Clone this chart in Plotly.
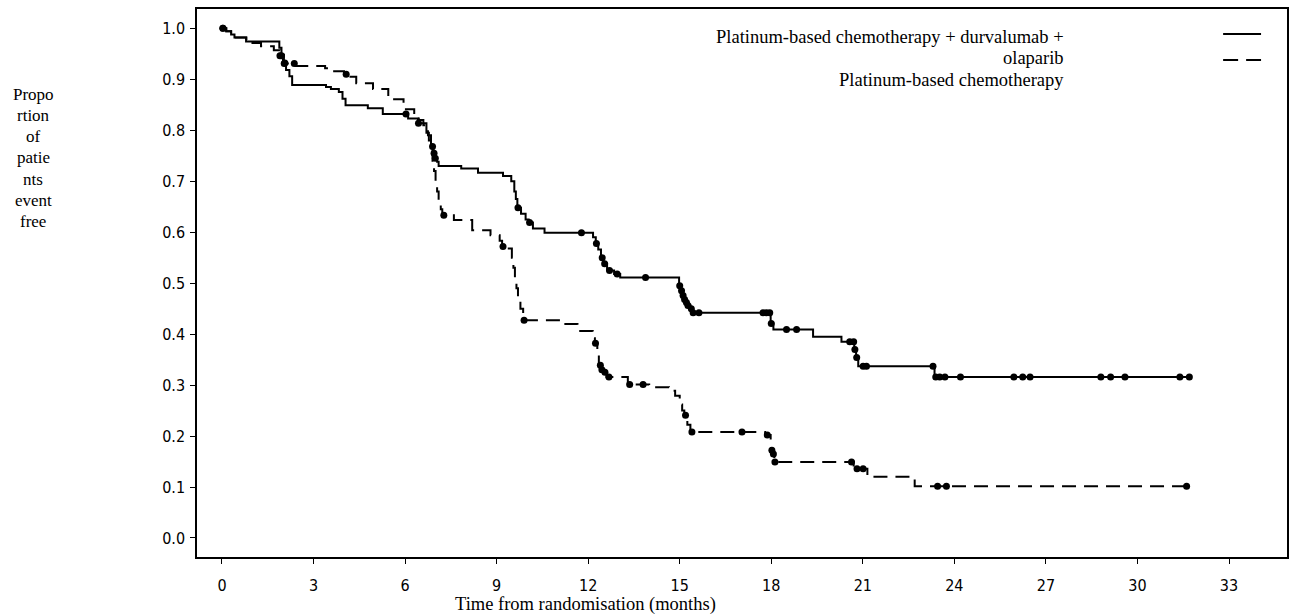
import numpy as np
import plotly.graph_objects as go

# Kaplan-Meier estimates: event times (months) and survival after each step
chemo_durva_ola_t = [0.14, 0.30, 0.41, 0.79, 1.88, 1.95, 2.03, 2.10, 2.21, 2.30,
                     3.41, 3.57, 3.83, 3.95, 4.05, 4.78, 5.27, 6.10, 6.42, 6.70,
                     6.78, 6.85, 6.93, 6.98, 7.05, 7.10, 7.84, 8.39, 9.21, 9.48,
                     9.58, 9.63, 9.68, 9.80, 9.95, 10.05, 10.19, 10.57, 12.16, 12.25,
                     12.33, 12.42, 12.50, 12.62, 12.85, 13.05, 14.98, 15.04, 15.09, 15.14,
                     15.20, 15.25, 15.35, 15.42, 17.98, 18.07, 19.37, 20.30, 20.72, 20.78,
                     20.85, 23.35]
chemo_durva_ola_s = [0.994, 0.988, 0.982, 0.974, 0.962, 0.948, 0.932, 0.918, 0.906, 0.889,
                     0.885, 0.881, 0.875, 0.862, 0.849, 0.843, 0.832, 0.823, 0.8135, 0.795,
                     0.780, 0.768, 0.755, 0.745, 0.738, 0.730, 0.725, 0.7165, 0.710, 0.700,
                     0.680, 0.665, 0.648, 0.636, 0.625, 0.619, 0.607, 0.599, 0.590, 0.578,
                     0.566, 0.550, 0.538, 0.525, 0.518, 0.511, 0.495, 0.485, 0.476, 0.468,
                     0.462, 0.456, 0.450, 0.442, 0.421, 0.409, 0.395, 0.385, 0.370, 0.354,
                     0.337, 0.316]
chemo_durva_ola_cens = [0.03, 2.06, 6.03, 6.44, 6.90, 6.95, 6.99, 9.70, 10.08, 11.78,
                        12.27, 12.46, 12.54, 12.70, 12.95, 13.88, 15.00, 15.06, 15.11, 15.16,
                        15.22, 15.27, 15.38, 15.44, 15.63, 17.73, 17.84, 17.95, 18.00, 18.50,
                        18.83, 20.57, 20.70, 20.74, 20.80, 21.01, 21.12, 23.30, 23.39, 23.52,
                        23.69, 24.20, 25.95, 26.24, 26.48, 28.80, 29.12, 29.59, 31.39, 31.70]

chemo_t = [0.14, 0.30, 0.45, 0.80, 1.00, 1.28, 1.70, 1.90, 2.00, 2.42,
           3.38, 3.60, 4.00, 4.10, 4.40, 4.95, 5.45, 5.95, 6.30, 6.45,
           6.60, 6.75, 6.85, 6.90, 6.95, 7.00, 7.05, 7.10, 7.17, 7.22,
           7.60, 8.20, 8.80, 9.10, 9.18, 9.35, 9.50, 9.55, 9.60, 9.65,
           9.70, 9.78, 9.87, 11.15, 11.65, 12.15, 12.22, 12.30, 12.35, 12.42,
           12.50, 12.60, 13.30, 14.00, 14.65, 14.85, 15.00, 15.08, 15.15, 15.25,
           15.35, 17.80, 17.98, 18.00, 18.05, 18.10, 20.70, 21.15, 22.70]
chemo_s = [0.994, 0.988, 0.982, 0.976, 0.971, 0.965, 0.957, 0.946, 0.931, 0.926,
           0.9215, 0.916, 0.910, 0.905, 0.892, 0.881, 0.861, 0.841, 0.830, 0.820,
           0.810, 0.790, 0.765, 0.740, 0.720, 0.700, 0.680, 0.660, 0.645, 0.633,
           0.624, 0.604, 0.594, 0.583, 0.572, 0.568, 0.550, 0.530, 0.510, 0.490,
           0.470, 0.450, 0.427, 0.420, 0.406, 0.392, 0.382, 0.360, 0.339, 0.330,
           0.325, 0.316, 0.301, 0.296, 0.289, 0.279, 0.262, 0.250, 0.241, 0.222,
           0.208, 0.202, 0.185, 0.172, 0.165, 0.149, 0.136, 0.120, 0.1015]
chemo_cens = [0.03, 1.90, 1.95, 2.04, 2.37, 4.07, 7.27, 9.21, 9.90, 12.24,
              12.40, 12.45, 12.55, 12.68, 13.36, 13.80, 15.19, 15.40, 17.04, 17.87,
              18.02, 18.07, 18.12, 20.63, 20.81, 21.01, 23.45, 23.74, 31.61]

x_ticks = list(range(0, 34, 3))
y_ticks = [round(0.1 * i, 1) for i in range(11)]

W, H = 1294, 615
ML, MR, MT, MB = 197, 5, 9, 58
PW, PH = W - ML - MR, H - MT - MB


def px(xp):
    return (xp - ML) / PW


def py(yp):
    return 1 - (yp - MT) / PH


def km_curve(t, s, cens):
    t = np.asarray(t)
    s = np.asarray(s)
    end = max(cens)
    x = np.concatenate([[0.0], t, [end]])
    y = np.concatenate([[1.0], s, [s[-1]]])
    c = np.asarray(cens)
    idx = np.searchsorted(t, c, side="right") - 1
    cy = np.where(idx < 0, 1.0, s[np.clip(idx, 0, None)])
    return x, y, c, cy


fig = go.Figure()
for t, s, cens, dash in [
    (chemo_durva_ola_t, chemo_durva_ola_s, chemo_durva_ola_cens, "solid"),
    (chemo_t, chemo_s, chemo_cens, "14px,8px"),
]:
    x, y, cx, cy = km_curve(t, s, cens)
    fig.add_trace(go.Scatter(x=x, y=y, mode="lines", line_shape="hv",
                             line=dict(color="black", width=2, dash=dash),
                             hoverinfo="skip", showlegend=False))
    fig.add_trace(go.Scatter(x=cx, y=cy, mode="markers",
                             marker=dict(color="black", size=7, symbol="circle"),
                             showlegend=False))

serif = "Liberation Serif, Times New Roman, serif"
sans = "DejaVu Sans Condensed, Liberation Sans, sans-serif"

axis_common = dict(showline=True, linecolor="black", linewidth=1.5, mirror=True,
                   ticks="outside", ticklen=5, tickcolor="black", tickwidth=1,
                   showgrid=False, zeroline=False,
                   tickfont=dict(family=sans, size=16, color="black"))

fig.update_xaxes(range=[-0.818, 34.9], tickvals=x_ticks,
                 ticktext=[str(v) for v in x_ticks], ticklabelstandoff=8,
                 **axis_common)
fig.update_yaxes(range=[-0.0373, 1.0379], tickvals=y_ticks,
                 ticktext=[f"{v:.1f}" for v in y_ticks], ticklabelstandoff=2,
                 **axis_common)

annotations = []
# vertical axis title, wrapped into short lines
ylab_lines = ["Propo", "rtion", "of", "patie", "nts", "event", "free"]
for i, line in enumerate(ylab_lines):
    annotations.append(dict(text=line, xref="paper", yref="paper",
                            x=px(33), y=py(94 + 21.3 * i), xanchor="center",
                            yanchor="middle", showarrow=False,
                            font=dict(family=serif, size=17, color="black")))
# horizontal axis title
annotations.append(dict(text="Time from randomisation (months)", xref="paper",
                        yref="paper", x=px(586), y=py(604), xanchor="center",
                        yanchor="middle", showarrow=False,
                        font=dict(family=serif, size=18.5, color="black")))
# legend text
leg_lines = [("Platinum-based chemotherapy + durvalumab +", 37),
             ("olaparib", 58), ("Platinum-based chemotherapy", 80)]
for text, yp in leg_lines:
    annotations.append(dict(text=text, xref="paper", yref="paper",
                            x=px(1068), y=py(yp), xanchor="right",
                            yanchor="middle", showarrow=False,
                            font=dict(family=serif, size=18.5, color="black")))

shapes = [
    dict(type="line", xref="paper", yref="paper", x0=px(1225), x1=px(1263),
         y0=py(34), y1=py(34), line=dict(color="black", width=2)),
    dict(type="line", xref="paper", yref="paper", x0=px(1225), x1=px(1263),
         y0=py(60), y1=py(60), line=dict(color="black", width=2, dash="15px,8px")),
]

fig.update_layout(width=W, height=H, margin=dict(l=ML, r=MR, t=MT, b=MB),
                  paper_bgcolor="white", plot_bgcolor="white",
                  annotations=annotations, shapes=shapes, showlegend=False)

fig.write_html("out.html")
